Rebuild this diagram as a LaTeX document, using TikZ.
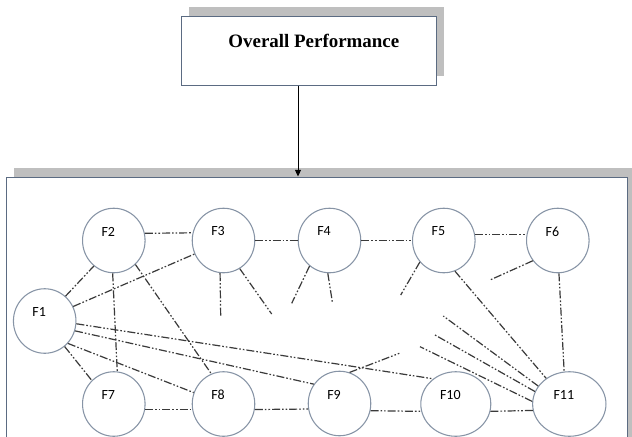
\documentclass[tikz,border=0pt]{standalone}
\usepackage{fontspec}
\setmainfont{Liberation Serif}
\newfontfamily\calib{Carlito}
\usetikzlibrary{shapes.geometric,shadows,arrows.meta}
\definecolor{ring}{HTML}{8794A6}
\definecolor{frame}{HTML}{5B6B82}
\definecolor{shade}{HTML}{BFBFBF}
\definecolor{lnk}{HTML}{3A3A3A}

\begin{document}
\begin{tikzpicture}[x=0.75pt,y=-0.75pt,
  box/.style={draw=frame,fill=white,line width=0.75pt,inner sep=0pt,
    drop shadow={shadow xshift=6.2pt,shadow yshift=6.8pt,fill=shade,opacity=1}},
  title/.style={font=\bfseries\fontsize{14.2}{16}\selectfont,inner sep=0pt,xshift=4pt,yshift=7.35pt},
  factor/.style={ellipse,draw=ring,fill=white,line width=0.8pt,inner sep=0pt,
    minimum width=46.9pt,minimum height=48.4pt},
  flbl/.style={font=\calib\fontsize{10.5}{12}\selectfont,inner sep=0pt,xshift=-4.1pt,yshift=6.75pt},
  link/.style={draw=lnk,line width=0.9pt,
    dash pattern=on 6pt off 1.5pt on 1.2pt off 1.5pt on 1.2pt off 1.5pt}]
\useasboundingbox (0,0) rectangle (632,436);
\clip (0,0) rectangle (632,436);
\node[box,minimum width=191.25pt,minimum height=51.75pt,
  label={[title]center:Overall Performance}] (perf) at (308.5,50.5) {};
\node[box,minimum width=465.75pt,minimum height=219.75pt] (panel) at (316.5,323.5) {};
\coordinate (a) at (298,0);
\draw[-{Triangle[length=5pt,width=4.5pt]},line width=0.75pt] (perf.south -| a) -- (panel.north -| a);

\node[factor,label={[flbl]center:F1}] (F1) at (44.7,321) {};
\node[factor,label={[flbl]center:F2}] (F2) at (113.8,240.5) {};
\node[factor,label={[flbl]center:F3}] (F3) at (223.5,240.5) {};
\node[factor,label={[flbl]center:F4}] (F4) at (329.5,240.5) {};
\node[factor,label={[flbl]center:F5}] (F5) at (443.8,240.5) {};
\node[factor,label={[flbl]center:F6}] (F6) at (557.8,240.5) {};
\node[factor,label={[flbl]center:F7}] (F7) at (113.8,404) {};
\node[factor,label={[flbl]center:F8}] (F8) at (223.5,404) {};
\node[factor,label={[flbl]center:F9}] (F9) at (339.5,403.5) {};
\node[factor,minimum width=52.5pt,label={[flbl]center:F10}] (F10) at (455.8,404) {};
\node[factor,minimum width=55pt,label={[flbl]center:F11}] (F11) at (569.3,404) {};

\coordinate (t1) at (220.7,316.7);
\coordinate (t2) at (271.7,314);
\coordinate (t3) at (291.7,303.3);
\coordinate (t4) at (332.3,301.7);
\coordinate (t5) at (400.7,295);
\coordinate (t6) at (490,280);
\coordinate (t7) at (443.3,316);
\coordinate (t8) at (435,335);
\coordinate (t9) at (420,346.7);
\coordinate (t10) at (399.3,353.3);

\draw[link] (F2.13) -- (F3.166);
\draw[link] (F3.east) -- (F4.west);
\draw[link] (F4.east) -- (F5.west);
\draw[link] (F5.11) -- (F6.169);
\draw[link] (F1.50) -- (F2.232);
\draw[link] (F1.27) -- (F3.205);
\draw[link] (F2.268) -- (F7.84);
\draw[link] (F2.312) -- (F8.112);
\draw[link] (F1.355) -- (F10.132);
\draw[link] (F1.342) -- (F9.143);
\draw[link] (F1.316) -- (F8.159);
\draw[link] (F1.308) -- (F7.133);
\draw[link] (F7.350) -- (F8.190);
\draw[link] (F8.350) -- (F9.190);
\draw[link] (F9.347) -- (F10.192);
\draw[link] (F10.348) -- (F11.190);
\draw[link] (F5.290) -- (F11.132);
\draw[link] (F6.272) -- (F11.99);
\draw[link] (F3.264) -- (t1);
\draw[link] (F3.300) -- (t2);
\draw[link] (F4.232) -- (t3);
\draw[link] (F4.267) -- (t4);
\draw[link] (F5.222) -- (t5);
\draw[link] (F6.219) -- (t6);
\draw[link] (F11.150) -- (t7);
\draw[link] (F11.160) -- (t8);
\draw[link] (F11.176) -- (t9);
\draw[link] (F9.72) -- (t10);
\end{tikzpicture}
\end{document}
